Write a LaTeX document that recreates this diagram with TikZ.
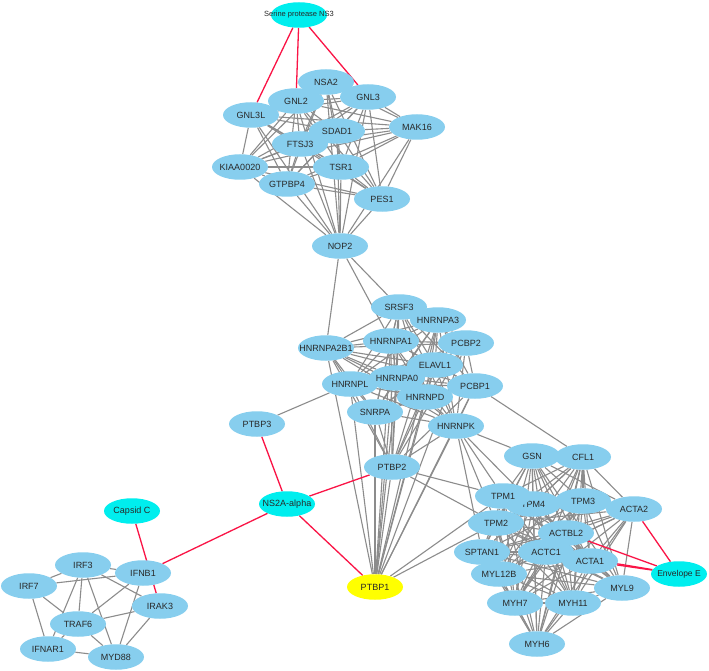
\documentclass[tikz,border=0pt]{standalone}
\usepackage{fontspec}
\setmainfont{Liberation Sans}
\usetikzlibrary{shapes.geometric}
\pgfdeclarelayer{background}
\pgfsetlayers{background,main}
\definecolor{nodeblue}{RGB}{135,206,238}
\definecolor{viruscyan}{RGB}{0,238,238}
\definecolor{hostyellow}{RGB}{255,255,0}
\definecolor{edgegray}{RGB}{140,140,140}
\definecolor{edgered}{RGB}{250,20,70}
\definecolor{labelgray}{RGB}{40,40,40}
\newcommand\lb[1]{\makebox[0pt][c]{#1}}
\tikzset{
  prot/.style={ellipse, fill=nodeblue, draw=none, minimum width=56pt, minimum height=25.5pt, inner sep=0pt, font=\fontsize{9}{10}\selectfont, text=labelgray},
  virus/.style={prot, fill=viruscyan},
  hub/.style={prot, fill=hostyellow},
  grayedge/.style={draw=edgegray, line width=1.1pt},
  rededge/.style={draw=edgered, line width=1.3pt}
}
\begin{document}
\begin{tikzpicture}[x=1pt,y=-1pt]
% top cluster
\node[virus, font=\fontsize{7.5}{8}\selectfont] (ns3) at (299,15) {\lb{Serine protease NS3}};
\node[prot] (nsa2) at (326,82) {\lb{NSA2}};
\node[prot] (gnl2) at (296,101) {\lb{GNL2}};
\node[prot] (gnl3) at (368,97) {\lb{GNL3}};
\node[prot] (gnl3l) at (251,115) {\lb{GNL3L}};
\node[prot] (mak16) at (417,127) {\lb{MAK16}};
\node[prot] (sdad1) at (337,131) {\lb{SDAD1}};
\node[prot] (ftsj3) at (300,144) {\lb{FTSJ3}};
\node[prot] (kiaa) at (240,167) {\lb{KIAA0020}};
\node[prot] (tsr1) at (341,167) {\lb{TSR1}};
\node[prot] (gtpbp4) at (287,184) {\lb{GTPBP4}};
\node[prot] (pes1) at (382,199) {\lb{PES1}};
\node[prot] (nop2) at (340,246) {\lb{NOP2}};
% middle cluster
\node[prot] (srsf3) at (399,307) {\lb{SRSF3}};
\node[prot] (hnrnpa3) at (438,320) {\lb{HNRNPA3}};
\node[prot] (pcbp2) at (466,343) {\lb{PCBP2}};
\node[prot] (hnrnpa1) at (391,341) {\lb{HNRNPA1}};
\node[prot] (hnrnpa2b1) at (326,348) {\lb{HNRNPA2B1}};
\node[prot] (elavl1) at (435,365) {\lb{ELAVL1}};
\node[prot] (pcbp1) at (475,386) {\lb{PCBP1}};
\node[prot] (hnrnpl) at (350,384) {\lb{HNRNPL}};
\node[prot] (hnrnpa0) at (397,378) {\lb{HNRNPA0}};
\node[prot] (hnrnpd) at (425,397) {\lb{HNRNPD}};
\node[prot] (snrpa) at (375,412) {\lb{SNRPA}};
\node[prot] (hnrnpk) at (456,426) {\lb{HNRNPK}};
\node[prot] (ptbp3) at (257,424) {\lb{PTBP3}};
\node[prot] (ptbp2) at (392,467) {\lb{PTBP2}};
\node[virus] (ns2a) at (287,504) {\lb{NS2A-alpha}};
\node[hub] (ptbp1) at (375,587) {\lb{PTBP1}};
% right cluster
\node[prot] (gsn) at (532,456) {\lb{GSN}};
\node[prot] (cfl1) at (583,457) {\lb{CFL1}};
\node[prot] (tpm4) at (533,504) {\lb{TPM4}};
\node[prot] (tpm1) at (503,496) {\lb{TPM1}};
\node[prot] (tpm3) at (583,501) {\lb{TPM3}};
\node[prot] (acta2) at (634,509) {\lb{ACTA2}};
\node[prot] (tpm2) at (496,523) {\lb{TPM2}};
\node[prot] (actbl2) at (566,533) {\lb{ACTBL2}};
\node[prot] (sptan1) at (482,552) {\lb{SPTAN1}};
\node[prot] (myl12b) at (499,574) {\lb{MYL12B}};
\node[prot] (actc1) at (546,552) {\lb{ACTC1}};
\node[prot] (acta1) at (590,561) {\lb{ACTA1}};
\node[virus, font=\fontsize{8.5}{9}\selectfont] (enve) at (679,574) {\lb{Envelope E}};
\node[prot] (myl9) at (622,588) {\lb{MYL9}};
\node[prot] (myh7) at (515,603) {\lb{MYH7}};
\node[prot] (myh11) at (573,603) {\lb{MYH11}};
\node[prot] (myh6) at (537,644) {\lb{MYH6}};
% bottom-left cluster
\node[virus] (capsid) at (132,511) {\lb{Capsid C}};
\node[prot] (irf3) at (83,565) {\lb{IRF3}};
\node[prot] (irf7) at (29,586) {\lb{IRF7}};
\node[prot] (ifnb1) at (143,573) {\lb{IFNB1}};
\node[prot] (irak3) at (160,606) {\lb{IRAK3}};
\node[prot] (traf6) at (78,624) {\lb{TRAF6}};
\node[prot] (ifnar1) at (48,649) {\lb{IFNAR1}};
\node[prot] (myd88) at (116,657) {\lb{MYD88}};

\begin{pgfonlayer}{background}
\path[use as bounding box, fill=white] (0,0) rectangle (709,671);
% complete sub-networks
\foreach \a [count=\i] in {nsa2,gnl2,gnl3,gnl3l,mak16,sdad1,ftsj3,kiaa,tsr1,gtpbp4,pes1,nop2}{
  \foreach \b [count=\j] in {nsa2,gnl2,gnl3,gnl3l,mak16,sdad1,ftsj3,kiaa,tsr1,gtpbp4,pes1,nop2}{
    \ifnum\j>\i \draw[grayedge] (\a) -- (\b); \fi
  }
}
\foreach \a [count=\i] in {srsf3,hnrnpa3,pcbp2,hnrnpa1,hnrnpa2b1,elavl1,pcbp1,hnrnpl,hnrnpd,hnrnpa0,snrpa,hnrnpk,ptbp2,ptbp1}{
  \foreach \b [count=\j] in {srsf3,hnrnpa3,pcbp2,hnrnpa1,hnrnpa2b1,elavl1,pcbp1,hnrnpl,hnrnpd,hnrnpa0,snrpa,hnrnpk,ptbp2,ptbp1}{
    \ifnum\j>\i \draw[grayedge] (\a) -- (\b); \fi
  }
}
\foreach \a [count=\i] in {gsn,cfl1,tpm1,tpm4,tpm3,acta2,tpm2,actbl2,sptan1,myl12b,actc1,acta1,myl9,myh7,myh11,myh6}{
  \foreach \b [count=\j] in {gsn,cfl1,tpm1,tpm4,tpm3,acta2,tpm2,actbl2,sptan1,myl12b,actc1,acta1,myl9,myh7,myh11,myh6}{
    \ifnum\j>\i \draw[grayedge] (\a) -- (\b); \fi
  }
}
% links between clusters
\foreach \a/\b in {nop2/srsf3,nop2/hnrnpa1,nop2/hnrnpa2b1,ptbp3/hnrnpl,pcbp1/cfl1,hnrnpk/gsn,hnrnpk/tpm1,hnrnpk/tpm2,hnrnpk/sptan1,hnrnpk/tpm4,ptbp2/tpm1,ptbp2/tpm2,ptbp1/tpm1,ptbp1/tpm2}
  \draw[grayedge] (\a) -- (\b);
% innate immunity cluster
\foreach \a/\b in {irf3/irf7,irf3/ifnb1,irf3/traf6,irf3/ifnar1,irf3/myd88,irf3/irak3,irf7/ifnb1,irf7/traf6,irf7/ifnar1,ifnb1/traf6,ifnb1/myd88,irak3/traf6,irak3/myd88,traf6/myd88,traf6/ifnar1,ifnar1/myd88}
  \draw[grayedge] (\a) -- (\b);
% virus-host links
\foreach \a/\b in {ns3/gnl3l,ns3/gnl2,ns3/gnl3,ptbp3/ns2a,ns2a/ptbp2,ns2a/ptbp1,ns2a/ifnb1,capsid/irak3,enve/acta2,enve/actbl2,enve/acta1,enve/actc1}
  \draw[rededge] (\a) -- (\b);
\end{pgfonlayer}
\end{tikzpicture}
\end{document}
